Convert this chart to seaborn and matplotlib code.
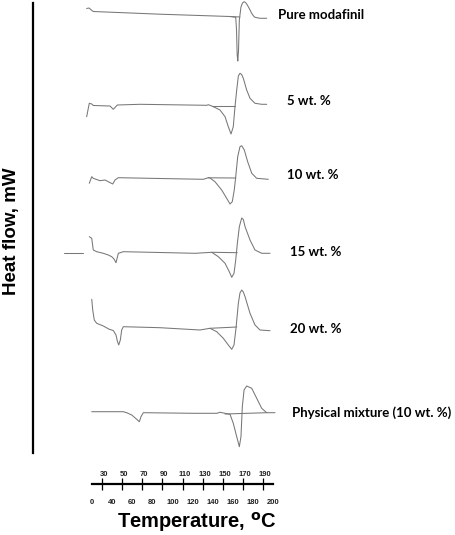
import numpy as np
import pandas as pd
import matplotlib.pyplot as plt
import seaborn as sns

# DSC thermograms, temperature in degC, heat flow relative to each baseline (a.u.)
samples = ["Pure modafinil", "5 wt. %", "10 wt. %", "15 wt. %", "20 wt. %",
           "Physical mixture (10 wt. %)"]

temp_pure = [-5.9, -3.3, -0.3, 1.4, 75.1, 152.5, 158.8, 159.7, 160.4, 161.1, 161.9, 162.8,
             164.6, 166.3, 168.0, 169.6, 171.3, 172.7, 174.6, 176.5, 178.5, 180.1, 185.6, 193.0]
hf_pure = [0.75, 0.8, 0.57, 0.45, 0.18, -0.05, -0.13, -1.4, -3.9, -4.5, -3.4, -0.4,
           0.9, 1.3, 1.43, 1.35, 1.15, 0.93, 0.6, 0.27, 0.0, -0.13, -0.23, -0.23]

temp_5 = [-5.9, -3.0, -0.3, 1.4, 19.9, 23.5, 28.0, 53.0, 126.7, 128.5, 132.3, 135.9, 141.4,
          147.0, 150.6, 153.6, 156.1, 158.0, 159.9, 161.7, 163.5, 165.4, 167.2, 170.9,
          174.6, 180.1, 187.5, 193.0]
hf_5 = [-1.17, 0.17, 0.1, -0.05, -0.1, -0.43, 0.0, 0.07, -0.03, 0.03, -0.1, -0.25, -0.5,
        -1.17, -2.17, -2.9, -2.17, -0.17, 1.5, 2.9, 3.17, 3.05, 2.67, 1.5,
        0.67, 0.17, 0.07, 0.07]

temp_10 = [-3.0, -0.3, 1.4, 8.8, 14.4, 18.0, 22.9, 25.4, 29.1, 75.1, 123.0, 128.5, 130.4,
           135.9, 143.3, 148.8, 152.5, 155.0, 157.2, 158.8, 161.0, 163.5, 165.4, 168.3,
           172.0, 176.5, 182.0, 194.8]
hf_10 = [-0.43, 0.23, 0.07, -0.17, -0.1, -0.27, -0.5, -0.1, 0.13, 0.05, -0.03, 0.13, 0.1,
         -0.27, -1.1, -1.93, -2.5, -2.27, -1.1, 0.23, 2.23, 3.23, 3.33, 2.9,
         1.73, 0.57, 0.07, -0.03]

temp_15_lead = [-30.9, -9.6]
hf_15_lead = [0.03, 0.03]
temp_15 = [-3.0, -0.3, 1.4, 5.2, 12.5, 18.0, 21.8, 24.3, 26.5, 29.1, 34.6, 75.1, 113.8,
           132.3, 139.6, 147.0, 151.7, 154.4, 156.9, 158.8, 160.6, 162.8, 165.4, 167.2,
           169.1, 174.6, 180.1, 187.5, 196.7]
hf_15 = [1.63, 1.47, 0.3, 0.13, -0.03, -0.2, -0.37, -0.6, -0.97, -0.03, 0.13, 0.05, -0.03,
         0.07, -0.37, -1.03, -1.87, -2.43, -2.03, -0.7, 0.97, 2.63, 3.5, 3.35,
         2.63, 1.3, 0.3, -0.03, -0.03]

temp_20 = [-0.3, 0.8, 2.5, 5.2, 12.5, 19.1, 23.5, 26.5, 28.0, 29.5, 31.3, 32.8, 34.6, 75.1,
           119.3, 130.4, 137.8, 145.1, 150.6, 154.4, 156.9, 159.1, 161.7, 163.5, 165.4,
           167.2, 169.1, 174.6, 180.1, 185.6, 196.7]
hf_20 = [2.87, 1.8, 0.8, 0.47, 0.2, -0.13, -0.25, -0.7, -1.3, -1.7, -1.2, -0.2, 0.13, 0.03,
         -0.2, -0.03, -0.37, -1.03, -1.7, -2.13, -1.7, -0.03, 2.47, 3.5, 3.8,
         3.6, 3.13, 1.47, 0.3, -0.2, -0.27]

temp_pm = [-0.3, 34.6, 38.3, 43.9, 49.4, 52.3, 54.1, 56.7, 111.9, 137.8, 141.4, 147.0, 152.5,
           156.1, 159.9, 162.8, 164.6, 166.1, 168.0, 170.9, 176.5, 182.0, 187.5, 193.0, 202.2]
hf_pm = [0.13, 0.13, 0.03, -0.2, -0.63, -0.87, -0.37, 0.03, -0.03, -0.03, 0.07, -0.03, -0.13,
         -1.03, -2.37, -3.37, -2.37, 0.63, 2.3, 2.7, 2.47, 1.47, 0.47, 0.03, 0.03]

# peak integration baselines (start T, end T, start hf, end hf)
base_T = [(152.5, 163.5), (132.3, 158.5), (128.5, 159.0), (132.3, 160.5), (130.4, 160.0),
          (147.0, 193.0)]
base_hf = [(-0.05, -0.1), (-0.1, -0.1), (0.12, 0.1), (0.07, 0.03), (-0.03, 0.1), (-0.1, 0.03)]

# vertical stacking of the curves
offsets = [-1.6, -10.5, -17.9, -25.3, -32.8, -41.3]

# temperature scale drawn under the curves
scale_bottom = ["0", "40", "60", "80", "100", "120", "140", "160", "180", "200"]
scale_top = ["30", "50", "70", "90", "110", "130", "150", "170", "190"]

curves = [
    [(temp_pure, hf_pure)],
    [(temp_5, hf_5)],
    [(temp_10, hf_10)],
    [(temp_15_lead, hf_15_lead), (temp_15, hf_15)],
    [(temp_20, hf_20)],
    [(temp_pm, hf_pm)],
]

rows = []
seg = 0
for name, parts, off, bt, bh in zip(samples, curves, offsets, base_T, base_hf):
    for t, h in parts + [(list(bt), list(bh))]:
        for ti, hi in zip(t, h):
            rows.append({"sample": name, "seg": seg, "T": ti, "y": hi + off})
        seg += 1
df = pd.DataFrame(rows)

sns.set_theme(style="white")
plt.rcParams["font.family"] = ["Liberation Sans", "DejaVu Sans"]

fig = plt.figure(figsize=(4.55, 5.35), dpi=100)
ax = fig.add_axes([33 / 455, (535 - 453) / 535, 422 / 455, 450 / 535])

sns.lineplot(data=df, x="T", y="y", units="seg", estimator=None, sort=False,
             color="#777777", linewidth=0.75, ax=ax)
for ln in ax.lines:
    ln.set_clip_on(False)

ax.set_xlim(-65.2, 401.1)
ax.set_ylim(-45.3, -0.3)
ax.set_xlabel("")
ax.set_ylabel("")
ax.set_xticks([])
ax.set_yticks([])
for s in ["top", "right", "bottom"]:
    ax.spines[s].set_visible(False)
ax.spines["left"].set_color("black")
ax.spines["left"].set_linewidth(1.6)

label_T = [205.5, 215.5, 215.0, 218.8, 218.8, 220.6]
label_y = [-1.5, -10.1, -17.5, -25.2, -32.9, -41.3]
for name, tx, ty in zip(samples, label_T, label_y):
    ax.text(tx, ty, name, ha="left", va="center", fontsize=9.5, fontweight="bold",
            family=["Lato", "DejaVu Sans"], color="black")

fig.text(12 / 455, 1 - 231 / 535, "Heat flow, mW", rotation=90, ha="center",
         va="center", fontsize=13.5, fontweight="bold", color="black")

# temperature scale
sax = fig.add_axes([92 / 455, (535 - 484) / 535, 181 / 455, 0.0001])
sax.set_xlim(0, 200)
sax.set_yticks([])
for s in ["top", "left", "right"]:
    sax.spines[s].set_visible(False)
sax.spines["bottom"].set_color("black")
sax.spines["bottom"].set_linewidth(1.6)
sax.set_xticks(np.linspace(0, 200, 19), minor=True)
sax.set_xticks(np.linspace(0, 200, len(scale_bottom)))
sax.set_xticklabels(scale_bottom, fontsize=5.5, fontweight="bold", color="#222222")
sax.tick_params(axis="x", which="major", length=0, pad=11, bottom=True)
sax.tick_params(axis="x", which="minor", direction="inout", length=8, width=0.9,
                color="black", bottom=True)
top = sax.secondary_xaxis("top")
top.set_xticks(np.linspace(13, 191, len(scale_top)))
top.set_xticklabels(scale_top, fontsize=5.5, fontweight="bold", color="#222222")
top.tick_params(length=0, pad=4)
top.spines["top"].set_visible(False)

fig.text(197 / 455, 1 - 522 / 535, r"Temperature, $\mathbf{^{o}}$C", ha="center",
         va="center", fontsize=14.5, fontweight="bold", color="black")

fig.savefig("out.png", dpi=100)
